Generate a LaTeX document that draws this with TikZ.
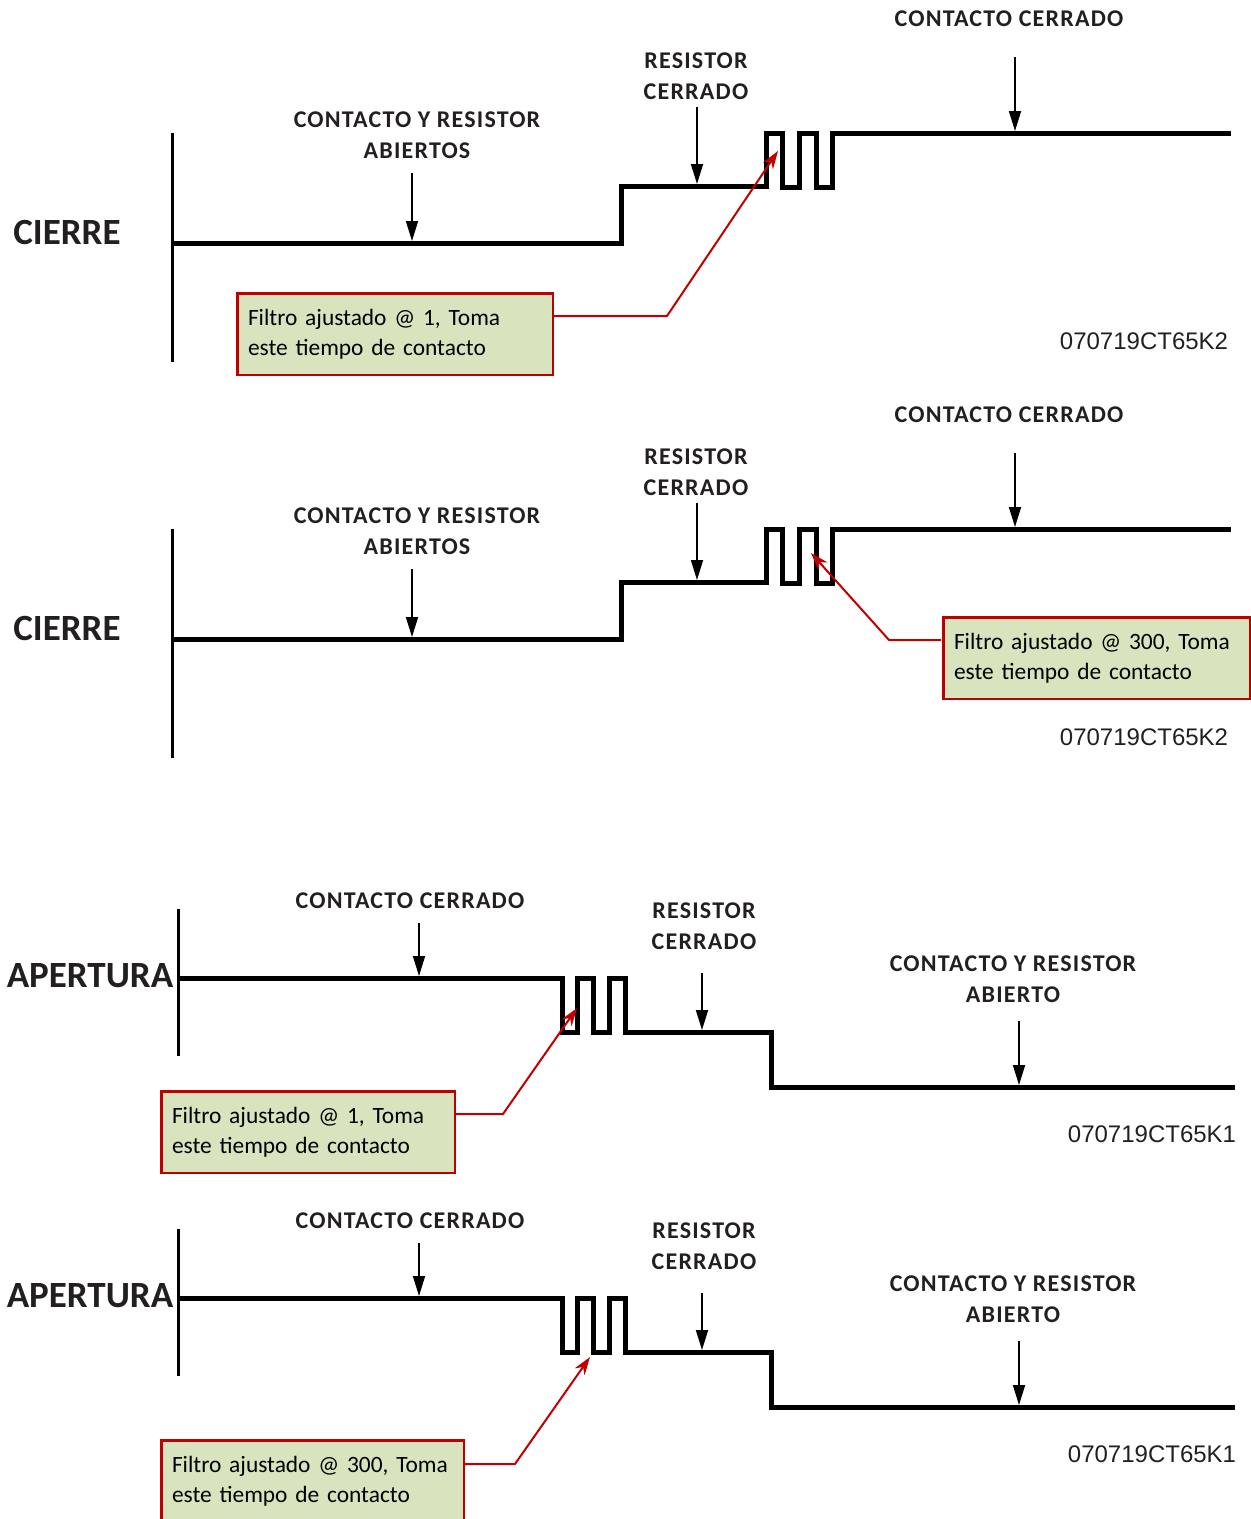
\documentclass[tikz,border=0pt]{standalone}
\usepackage{fontspec}
\setmainfont{Carlito}
\newfontfamily\lblfont[LetterSpace=5]{Carlito}
\newfontfamily\codefont{Liberation Sans}
\usetikzlibrary{arrows.meta}
\definecolor{boxfill}{HTML}{D7E4BD}
\definecolor{boxred}{HTML}{C00000}
\definecolor{ink}{HTML}{231F20}
\tikzset{
 wave/.style={line width=5pt, line join=miter, line cap=butt},
 axisline/.style={line width=3pt},
 lblarrow/.style={line width=1.8pt, -{Triangle[length=20pt,width=12pt]}},
 lbl/.style={font=\lblfont\fontsize{24}{31}\selectfont\bfseries, align=center, text=ink, inner sep=0pt},
 ttl/.style={font=\fontsize{37}{40}\selectfont\bfseries, text=ink, inner sep=0pt},
 codelbl/.style={font=\codefont\fontsize{24}{28}\selectfont, text=ink, inner sep=0pt},
 callout/.style={draw=boxred, fill=boxfill, line width=2.5pt, font=\fontsize{23.4}{30}\selectfont, align=left, inner xsep=10.5pt, inner ysep=0pt, anchor=north west, minimum height=81.5pt},
 pointer/.style={draw=boxred, line width=2pt, -{Stealth[length=18pt,width=12pt]}},
}
\newcommand\cierrepanel[2]{%
 \draw[axisline] (172,{#1+133}) -- (172,{#1+362});
 \draw[wave] (172,{#1+243}) -- (621,{#1+243}) -- (621,{#1+186}) -- (766,{#1+186}) -- (766,{#1+133}) -- (782,{#1+133}) -- (782,{#1+187}) -- (799,{#1+187}) -- (799,{#1+133}) -- (816,{#1+133}) -- (816,{#1+187}) -- (832,{#1+187}) -- (832,{#1+133}) -- (1231,{#1+133});
 \node[ttl] (#2title) at (67,{#1+232}) {CIERRE};
 \node[lbl] (#2open) at (417,{#1+135}) {CONTACTO Y RESISTOR\\ABIERTOS};
 \coordinate (#2openS) at (412,{#1+173});
 \coordinate (#2openT) at (412,{#1+241});
 \draw[lblarrow] (#2openS) -- (#2openT);
 \node[lbl] (#2res) at (696,{#1+76}) {RESISTOR\\CERRADO};
 \coordinate (#2resS) at (697,{#1+107});
 \coordinate (#2resT) at (697,{#1+184});
 \draw[lblarrow] (#2resS) -- (#2resT);
 \node[lbl] (#2cc) at (1009,{#1+19}) {CONTACTO CERRADO};
 \coordinate (#2ccS) at (1015,{#1+57});
 \coordinate (#2ccT) at (1015,{#1+131});
 \draw[lblarrow] (#2ccS) -- (#2ccT);
 \node[codelbl] (#2code) at (1144,{#1+341}) {070719CT65K2};
}
\newcommand\aperturapanel[2]{%
 \draw[axisline] (178,{#1+909}) -- (178,{#1+1056});
 \draw[wave] (178,{#1+978}) -- (562,{#1+978}) -- (562,{#1+1032}) -- (577,{#1+1032}) -- (577,{#1+978}) -- (593,{#1+978}) -- (593,{#1+1032}) -- (609,{#1+1032}) -- (609,{#1+978}) -- (625,{#1+978}) -- (625,{#1+1032}) -- (771,{#1+1032}) -- (771,{#1+1087}) -- (1235,{#1+1087});
 \node[ttl] (#2title) at (90,{#1+976}) {APERTURA};
 \node[lbl] (#2cc) at (410,{#1+901}) {CONTACTO CERRADO};
 \coordinate (#2ccS) at (419,{#1+923});
 \coordinate (#2ccT) at (419,{#1+976});
 \draw[lblarrow] (#2ccS) -- (#2ccT);
 \node[lbl] (#2res) at (704,{#1+926}) {RESISTOR\\CERRADO};
 \coordinate (#2resS) at (702,{#1+973});
 \coordinate (#2resT) at (702,{#1+1030});
 \draw[lblarrow] (#2resS) -- (#2resT);
 \node[lbl] (#2open) at (1013,{#1+979}) {CONTACTO Y RESISTOR\\ABIERTO};
 \coordinate (#2openS) at (1019,{#1+1021});
 \coordinate (#2openT) at (1019,{#1+1085});
 \draw[lblarrow] (#2openS) -- (#2openT);
 \node[codelbl] (#2code) at (1152,{#1+1134}) {070719CT65K1};
}
\begin{document}
\begin{tikzpicture}[x=1pt,y=-1pt]
\useasboundingbox (0,0) rectangle (1251,1519);
\clip (0,0) rectangle (1251,1519);
\cierrepanel{0}{A}
\cierrepanel{396}{B}
\aperturapanel{0}{C}
\aperturapanel{320}{D}
% callouts
\node[callout, text width=294.5pt] (boxA) at (236.25,292.25) {Filtro ajustado @ 1, Toma\\este tiempo de contacto};
\coordinate (boxAout) at (553,316);
\coordinate (kneeA) at (667,316);
\coordinate (tipA) at (778,151);
\draw[pointer] (boxAout) -- (kneeA) -- (tipA);

\node[callout, text width=285.5pt] (boxB) at (942.25,616.25) {Filtro ajustado @ 300, Toma\\este tiempo de contacto};
\coordinate (boxBout) at (941,640);
\coordinate (kneeB) at (889,640);
\coordinate (tipB) at (811,553);
\draw[pointer] (boxBout) -- (kneeB) -- (tipB);

\node[callout, text width=272.5pt] (boxC) at (160.25,1090.25) {Filtro ajustado @ 1, Toma\\este tiempo de contacto};
\coordinate (boxCout) at (455,1114);
\coordinate (kneeC) at (503,1114);
\coordinate (tipC) at (577,1008);
\draw[pointer] (boxCout) -- (kneeC) -- (tipC);

\node[callout, text width=281.5pt] (boxD) at (160.25,1439.25) {Filtro ajustado @ 300, Toma\\este tiempo de contacto};
\coordinate (boxDout) at (464,1464);
\coordinate (kneeD) at (515,1464);
\coordinate (tipD) at (590,1357);
\draw[pointer] (boxDout) -- (kneeD) -- (tipD);
\end{tikzpicture}
\end{document}
